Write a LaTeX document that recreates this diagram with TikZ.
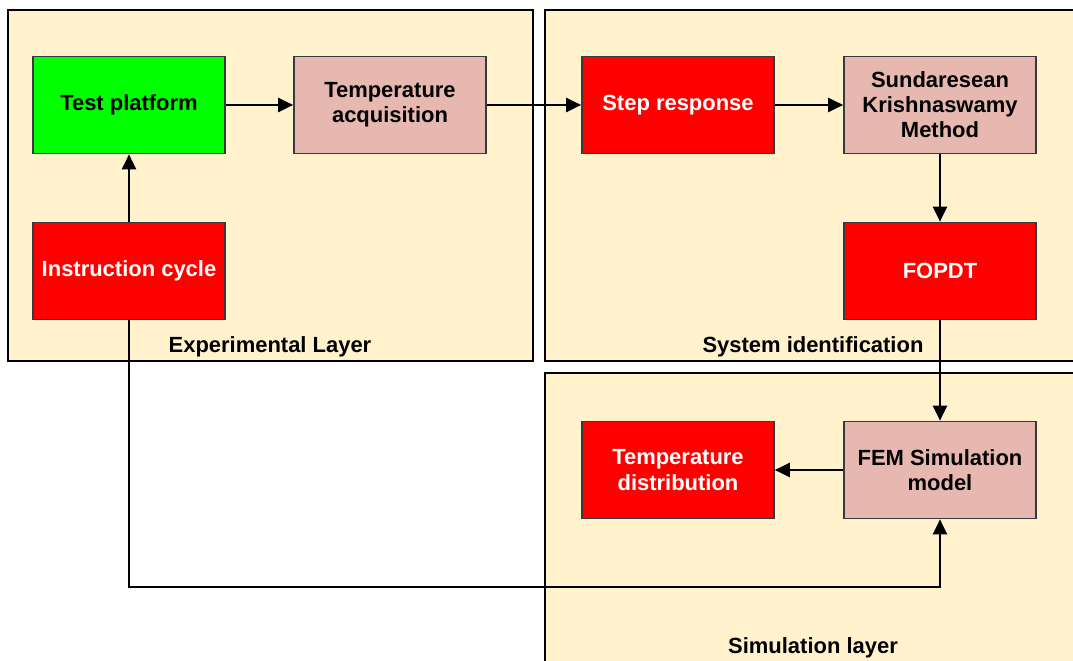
\documentclass[tikz,border=0pt]{standalone}
\usepackage{fontspec}
\setmainfont{Liberation Sans}
\usepackage{xcolor}
\usetikzlibrary{positioning,calc,arrows.meta}

\definecolor{layerfill}{HTML}{FFF2CC}
\definecolor{boxgreen}{HTML}{00FF00}
\definecolor{boxred}{HTML}{FF0000}
\definecolor{boxpink}{HTML}{E6B8AF}
\definecolor{boxline}{HTML}{36393D}

\tikzset{
  layer/.style={fill=layerfill, draw=black, line width=1.2pt},
  layerlabel/.style={font=\fontsize{12.5}{14}\selectfont\bfseries, inner sep=0pt},
  block/.style={draw=boxline, line width=1pt, minimum width=3.84cm, minimum height=1.94cm,
    align=center, font=\fontsize{12.5}{14.3}\selectfont\bfseries, inner sep=1pt},
  greenbox/.style={block, fill=boxgreen, text=black},
  redbox/.style={block, fill=boxred, text=white},
  pinkbox/.style={block, fill=boxpink, text=black},
  flow/.style={line width=1.1pt, -{Triangle[length=8.5pt, width=8pt]}}
}

\begin{document}
\begin{tikzpicture}[x=0.02cm, y=-0.02cm]
  \clip (0,0) rectangle (1073,661);
  \fill[white] (0,0) rectangle (1073,661);

  % Layers
  \draw[layer] (8,10) rectangle (533,361);
  \draw[layer] (545,10) rectangle (1081,361);
  \draw[layer] (545,373) rectangle (1081,668);
  \node[layerlabel] (explabel) at (270,347) {Experimental Layer};
  \node[layerlabel] (idlabel) at (813,347) {System identification};
  \node[layerlabel] (simlabel) at (813,648) {Simulation layer};

  % Experimental layer
  \node[greenbox] (platform) at (129,105) {Test platform};
  \node[pinkbox] (acq) at (390,105) {Temperature\\acquisition};
  \node[redbox] (instr) at (129,271) {Instruction cycle};

  % System identification
  \node[redbox] (step) at (678,105) {Step response};
  \node[pinkbox] (skm) at (940,105) {Sundaresean\\Krishnaswamy\\Method};
  \node[redbox] (fopdt) at (940,271) {FOPDT};

  % Simulation layer
  \node[redbox] (tdist) at (678,470) {Temperature\\distribution};
  \node[pinkbox] (fem) at (940,470) {FEM Simulation\\model};

  % Connectors
  \draw[flow] (instr) -- (platform);
  \draw[flow] (platform) -- (acq);
  \draw[flow] (acq) -- (step);
  \draw[flow] (step) -- (skm);
  \draw[flow] (skm) -- (fopdt);
  \draw[flow] (fopdt) -- (fem);
  \draw[flow] (fem) -- (tdist);
  \draw[flow] (instr.south) -- ++(0,267) -| (fem.south);
\end{tikzpicture}
\end{document}
